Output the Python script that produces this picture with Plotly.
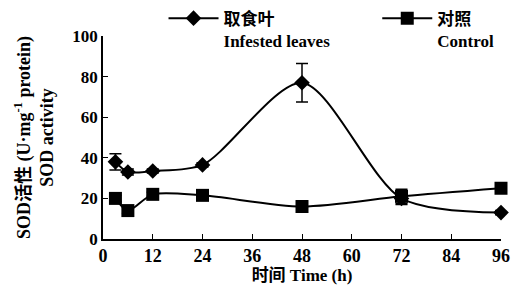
import plotly.graph_objects as go

time_h = [3, 6, 12, 24, 48, 72, 96]
infested = [38, 33, 33.5, 36.5, 77, 20, 13]
infested_err = [4, 1.5, 1, 1, 9.5, 3, 1]
control = [20, 14, 22, 21.5, 16, 21, 25]
control_err = [1.5, 1.5, 1, 1, 1, 3.5, 1]
x_ticks = [0, 12, 24, 36, 48, 60, 72, 84, 96]
y_ticks = [0, 20, 40, 60, 80, 100]

FONT = "Liberation Serif, Times New Roman, Noto Sans CJK SC, serif"
PAD = "&nbsp;" * 10

fig = go.Figure()
fig.add_trace(go.Scatter(
    x=time_h, y=infested, name="<b>取食叶</b><br><b>Infested leaves</b>" + PAD,
    mode="lines+markers", line=dict(color="black", width=2, shape="spline", smoothing=0.8),
    marker=dict(symbol="diamond", size=12, color="black"),
    error_y=dict(type="data", array=infested_err, color="black", thickness=1.5, width=6),
    cliponaxis=False,
))
fig.add_trace(go.Scatter(
    x=time_h, y=control, name="<b>对照</b><br><b>Control</b>",
    mode="lines+markers", line=dict(color="black", width=2, shape="spline", smoothing=0.8),
    marker=dict(symbol="square", size=13, color="black"),
    error_y=dict(type="data", array=control_err, color="black", thickness=1.5, width=6),
    cliponaxis=False,
))

fig.update_layout(
    width=511, height=292,
    margin=dict(l=103, r=10, t=36, b=53, autoexpand=False),
    paper_bgcolor="white", plot_bgcolor="white",
    font=dict(family=FONT, color="black", size=15),
    showlegend=True,
    legend=dict(orientation="h", xref="container", yref="container",
                x=0.32, xanchor="left", y=0.998, yanchor="top",
                bgcolor="rgba(0,0,0,0)", font=dict(size=17, family=FONT),
                valign="top", tracegroupgap=0, itemwidth=50),
    xaxis=dict(range=[0, 96], tickvals=x_ticks, ticktext=[f"<b>{v}</b>" for v in x_ticks],
               showgrid=False, zeroline=False, showline=True, linecolor="black", linewidth=1.5,
               ticks="inside", ticklen=5, tickcolor="black", tickfont=dict(size=18),
               title=dict(text="<b>时间 Time (h)</b>", font=dict(size=17), standoff=0)),
    yaxis=dict(range=[0, 100], tickvals=y_ticks, ticktext=[f"<b>{v}</b>" for v in y_ticks],
               showgrid=False, zeroline=False, showline=True, linecolor="black", linewidth=1.5,
               ticks="inside", ticklen=5, tickcolor="black", tickfont=dict(size=17),
               title=dict(text="<b>SOD活性 (U·mg<sup>-1</sup> protein)</b><br><b>SOD activity</b>",
                          font=dict(size=18), standoff=14)),
)

fig.write_html("out.html", config={"displayModeBar": False},
               post_script="document.body.style.margin='0';document.body.style.overflow='hidden';")
